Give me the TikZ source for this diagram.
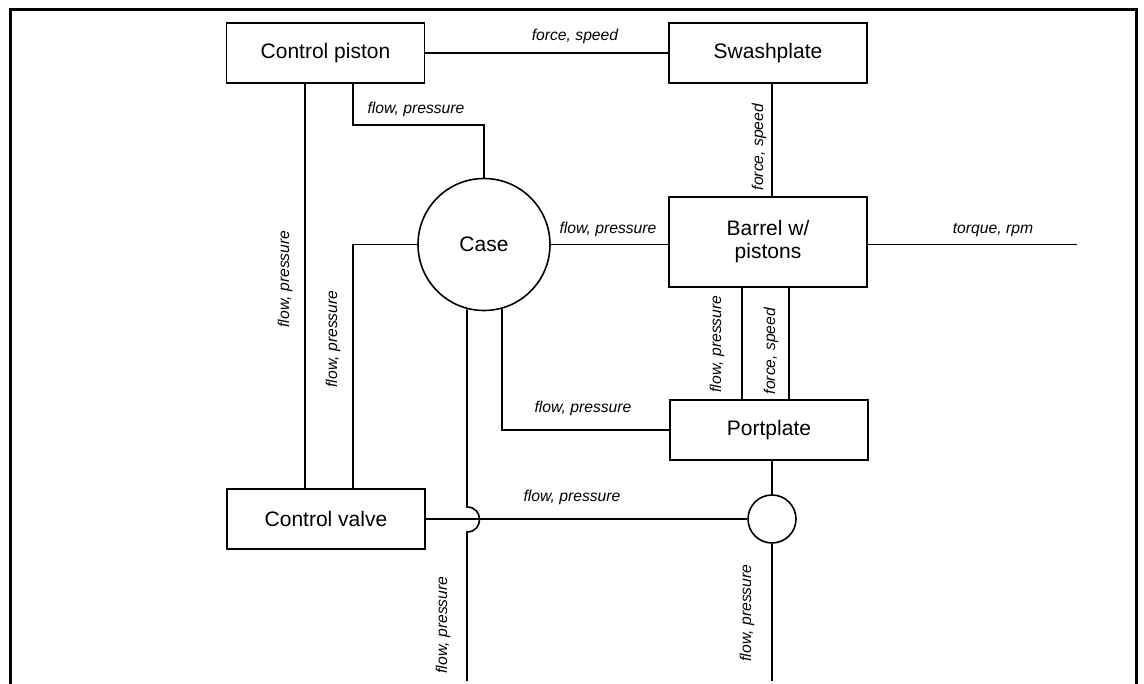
\documentclass[tikz,border=0pt]{standalone}
\usepackage{fontspec}
\setmainfont{Liberation Sans}
\usetikzlibrary{calc}
\begin{document}
\begin{tikzpicture}[x=1pt,y=-1pt,
  box/.style={draw,line width=1.6pt,rectangle,inner sep=0pt,minimum width=198pt,minimum height=60pt,
    font=\fontsize{21}{23}\selectfont,align=center},
  ball/.style={draw,line width=1.6pt,circle,inner sep=0pt,font=\fontsize{21}{23}\selectfont},
  wire/.style={line width=1.6pt},
  lbl/.style={font=\fontsize{15.7}{18}\selectfont\itshape,inner sep=0pt},
  vlbl/.style={lbl,rotate=90}]
\useasboundingbox (0,0) rectangle (1144,684);
% outer frame, open at the bottom
\draw[line width=3pt] (10,684) -- (10,10) -- (1136,10) -- (1136,684);

% components
\node[box] (cp) at (325.5,53) {Control piston};
\node[box] (sw) at (768,53) {Swashplate};
\node[box,minimum height=90pt] (br) at (768,242) {Barrel w/\\pistons};
\node[box] (pp) at (769,430) {Portplate};
\node[box] (cv) at (326,519) {Control valve};
\node[ball,minimum size=132pt] (case) at (484,244.5) {Case};
\node[ball,minimum size=48pt] (sm) at (772,519) {};

% bend points and free ends
\coordinate (k1) at (353,125);
\coordinate (k2) at (353,0);
\coordinate (k3) at (305,0);
\coordinate (k4) at (772,0);
\coordinate (k5) at (742,0);
\coordinate (k6) at (789,0);
\coordinate (k7) at (502,0);
\coordinate (j1) at (467,507);
\coordinate (j2) at (467,532);
\coordinate (b1) at (467,681);
\coordinate (b2) at (772,681);
\coordinate (tq) at (1077,244.5);

% connectors
\draw[wire] (cp.east) -- (sw.west);
\draw[wire] (cp.south -| k1) -- (k1) -| (case.north);
\draw[wire] (case.west) -| (cv.north -| k2);
\draw[wire] (cp.south -| k3) -- (cv.north -| k3);
\draw[wire] (sw.south -| k4) -- (br.north -| k4);
\draw[wire] (case.east) -- (case.east -| br.west);
\draw[wire] (br.east |- tq) -- (tq);
\draw[wire] (br.south -| k5) -- (pp.north -| k5);
\draw[wire] (br.south -| k6) -- (pp.north -| k6);
\draw[wire] (case.-74.2 -| k7) |- (pp.west);
\draw[wire] (case.-104.9 -| j1) -- (j1) .. controls +(16.7,0) and +(16.7,0) .. (j2) -- (b1);
\draw[wire] (cv.east) -- (sm.west);
\draw[wire] (pp.south -| sm.north) -- (sm.north);
\draw[wire] (sm.south) -- (b2);

% connector labels
\node[lbl] (l1) at (575,36) {force, speed};
\node[lbl] (l2) at (416,109) {flow, pressure};
\node[lbl] (l3) at (608,229) {flow, pressure};
\node[lbl] (l4) at (993,230) {torque, rpm};
\node[lbl] (l5) at (583,408) {flow, pressure};
\node[lbl] (l6) at (572,497) {flow, pressure};
\node[vlbl] (l7) at (285,279) {flow, pressure};
\node[vlbl] (l8) at (333,339) {flow, pressure};
\node[vlbl] (l9) at (759,147) {force, speed};
\node[vlbl] (l10) at (717,344) {flow, pressure};
\node[vlbl] (l11) at (771,351) {force, speed};
\node[vlbl] (l12) at (443,625) {flow, pressure};
\node[vlbl] (l13) at (747,613) {flow, pressure};
\end{tikzpicture}
\end{document}
